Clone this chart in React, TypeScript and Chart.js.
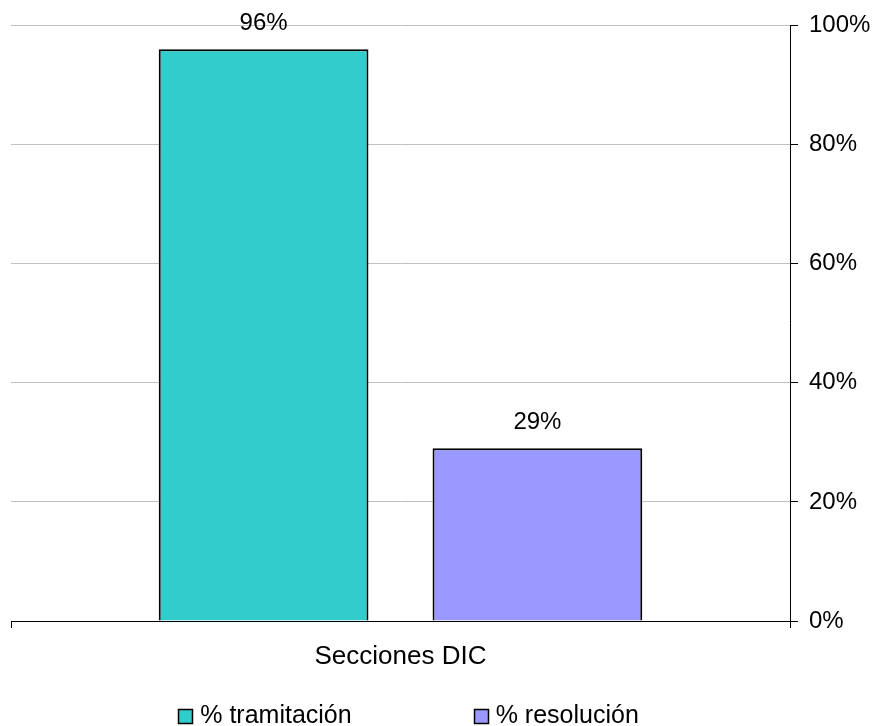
import React, { useEffect, useRef } from 'react';
import { Chart, registerables } from 'chart.js';

Chart.register(...registerables);

const categories = ['Secciones DIC'];
const seriesNames = ['% tramitación', '% resolución'];
const tramitacion = [96];
const resolucion = [29];
const seriesColors = ['#33CCCC', '#9999FF'];
const yTicks = [0, 20, 40, 60, 80, 100];

const FONT_FAMILY = '"Liberation Sans", Arial, Helvetica, sans-serif';
const FONT_SIZE = 24;
const CAT_FONT_SIZE = 26;
const LEGEND_FONT_SIZE = 25;

const valueLabelsPlugin = {
  id: 'valueLabels',
  afterDatasetsDraw(chart: any) {
    const ctx = chart.ctx;
    ctx.save();
    ctx.font = `${FONT_SIZE}px ${FONT_FAMILY}`;
    ctx.fillStyle = '#000';
    ctx.textAlign = 'center';
    ctx.textBaseline = 'middle';
    chart.data.datasets.forEach((ds: any, i: number) => {
      const meta = chart.getDatasetMeta(i);
      meta.data.forEach((el: any, j: number) => {
        ctx.fillText(`${ds.data[j]}%`, el.x, el.y - 26);
      });
    });
    ctx.restore();
  },
};

const bottomLegendPlugin = {
  id: 'bottomLegend',
  afterDraw(chart: any) {
    const ctx = chart.ctx;
    const area = chart.chartArea;
    const box = 14;
    const textGap = 8;
    const itemGap = 122;
    const y = 716;
    ctx.save();
    ctx.font = `${LEGEND_FONT_SIZE}px ${FONT_FAMILY}`;
    const items = chart.data.datasets.map((ds: any) => {
      const w = ctx.measureText(ds.label).width;
      return { label: ds.label, color: ds.backgroundColor, width: box + textGap + w };
    });
    const total = items.reduce((s: number, it: any) => s + it.width, 0) + itemGap * (items.length - 1);
    let x = (area.left + area.right) / 2 + 8 - total / 2;
    items.forEach((it: any) => {
      const bx = Math.round(x);
      const by = Math.round(y - box / 2);
      ctx.fillStyle = it.color;
      ctx.fillRect(bx, by, box, box);
      ctx.strokeStyle = '#000';
      ctx.lineWidth = 1.5;
      ctx.strokeRect(bx + 0.5, by + 0.5, box, box);
      ctx.fillStyle = '#000';
      ctx.textAlign = 'left';
      ctx.textBaseline = 'middle';
      ctx.fillText(it.label, x + box + textGap, y);
      x += it.width + itemGap;
    });
    ctx.restore();
  },
};

function App() {
  const canvasRef = useRef<HTMLCanvasElement | null>(null);

  useEffect(() => {
    if (!canvasRef.current) return;
    const font = { family: FONT_FAMILY, size: FONT_SIZE };
    const chart = new Chart(canvasRef.current, {
      type: 'bar',
      data: {
        labels: categories,
        datasets: [
          {
            label: seriesNames[0],
            data: tramitacion,
            backgroundColor: seriesColors[0],
            borderColor: '#000',
            borderWidth: 2,
            categoryPercentage: 0.703,
            barPercentage: 0.766,
          },
          {
            label: seriesNames[1],
            data: resolucion,
            backgroundColor: seriesColors[1],
            borderColor: '#000',
            borderWidth: 2,
            categoryPercentage: 0.703,
            barPercentage: 0.766,
          },
        ],
      },
      options: {
        animation: false,
        responsive: false,
        maintainAspectRatio: false,
        layout: { padding: { top: 23, left: 11, right: 0, bottom: 0 } },
        plugins: {
          legend: { display: false },
          tooltip: { enabled: false },
        },
        scales: {
          x: {
            grid: {
              display: true,
              drawOnChartArea: false,
              drawTicks: true,
              tickLength: 7,
              tickColor: '#000',
              offset: true,
            },
            border: { color: '#000', width: 1 },
            ticks: { font: { family: FONT_FAMILY, size: CAT_FONT_SIZE }, color: '#000', padding: 13 },
            afterFit: (s: any) => {
              s.height = 105;
            },
          },
          y: {
            position: 'right',
            min: 0,
            max: 100,
            grid: { color: '#C0C0C0', tickColor: '#000', tickLength: 8 },
            border: { color: '#000', width: 1 },
            ticks: {
              font,
              color: '#000',
              padding: 11,
              callback: (v: any) => `${v}%`,
            },
            afterBuildTicks: (s: any) => {
              s.ticks = yTicks.map((v) => ({ value: v }));
            },
            afterFit: (s: any) => {
              s.width = 87;
            },
          },
        },
      },
      plugins: [valueLabelsPlugin, bottomLegendPlugin],
    } as any);
    return () => chart.destroy();
  }, []);

  return (
    <div style={{ position: 'absolute', left: 0, top: 0, width: 877, height: 726, background: '#fff' }}>
      <canvas ref={canvasRef} width={877} height={726} style={{ display: 'block' }} />
    </div>
  );
}

export default App;
